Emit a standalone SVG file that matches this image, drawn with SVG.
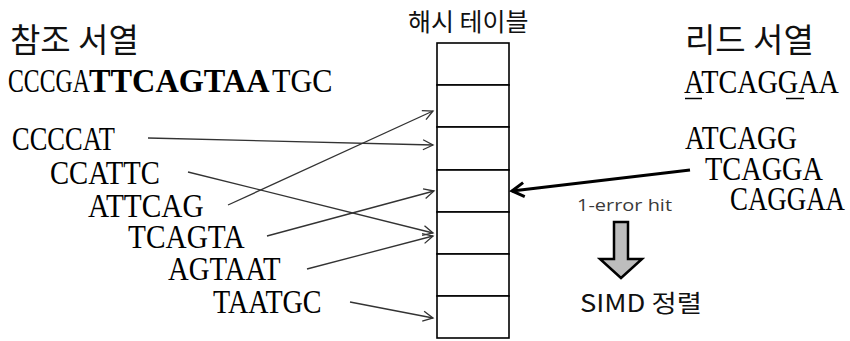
<svg xmlns="http://www.w3.org/2000/svg" width="850" height="341" viewBox="0 0 850 341">
<style>
.ko{font-family:"Noto Sans CJK KR","Noto Sans",sans-serif;fill:#111}
.seq{font-family:"Liberation Serif","DejaVu Serif",serif;font-size:34px;fill:#000}
.b{font-weight:bold}
.small{font-family:"Open Sans","Noto Sans CJK KR",sans-serif;fill:#3a3a3a}
.cell{fill:#fff;stroke:#000;stroke-width:1.6}
.ul{stroke:#000;stroke-width:1.5}
.thin{stroke:#333;stroke-width:1.3;fill:none;marker-end:url(#open)}
.thick{stroke:#000;stroke-width:3;fill:none;marker-end:url(#openBig)}
</style>
<defs>
<marker id="open" markerUnits="userSpaceOnUse" viewBox="-11 -6 13 12" refX="0" refY="0" markerWidth="13" markerHeight="12" orient="auto">
<path d="M-10,-5 L0,0 L-10,5" fill="none" stroke="#333" stroke-width="1.3"/>
</marker>
<marker id="openBig" markerUnits="userSpaceOnUse" viewBox="-14 -9 17 18" refX="0" refY="0" markerWidth="17" markerHeight="18" orient="auto">
<path d="M-12,-7 L0,0 L-12,7" fill="none" stroke="#000" stroke-width="3"/>
</marker>
</defs>

<g id="ref-title"><text class="ko" x="10" y="52" font-size="33">참조 서열</text></g>
<g id="ref-seq">
<text class="seq" transform="translate(8,92) scale(0.7,1)">CCCGA</text>
<text class="seq b" transform="translate(89,92) scale(0.95,1)">TTCAGTAA</text>
<text class="seq" transform="translate(272,92) scale(0.89,1)">TGC</text>
</g>

<g id="kmers-ref">
<text class="seq" transform="translate(12,150) scale(0.779,1)">CCCCAT</text>
<text class="seq" transform="translate(50,184) scale(0.843,1)">CCATTC</text>
<text class="seq" transform="translate(88,217) scale(0.863,1)">ATTCAG</text>
<text class="seq" transform="translate(128,248) scale(0.863,1)">TCAGTA</text>
<text class="seq" transform="translate(168,280) scale(0.845,1)">AGTAAT</text>
<text class="seq" transform="translate(213,313) scale(0.827,1)">TAATGC</text>
</g>

<g id="hash-table">
<text class="ko" x="408" y="31" font-size="25">해시 테이블</text>
<rect class="cell" x="437" y="43" width="72" height="42"/>
<rect class="cell" x="437" y="85" width="72" height="42"/>
<rect class="cell" x="437" y="127" width="72" height="43"/>
<rect class="cell" x="437" y="170" width="72" height="42"/>
<rect class="cell" x="437" y="212" width="72" height="42"/>
<rect class="cell" x="437" y="254" width="72" height="42"/>
<rect class="cell" x="437" y="296" width="72" height="42"/>
</g>

<g id="read-title"><text class="ko" x="685" y="52" font-size="33">리드 서열</text></g>
<g id="read-seq">
<text class="seq" transform="translate(684,93) scale(0.828,1)">ATCAGGAA</text>
<line class="ul" x1="685" y1="98.5" x2="702" y2="98.5"/>
<line class="ul" x1="786" y1="98.5" x2="804" y2="98.5"/>
</g>

<g id="kmers-read">
<text class="seq" transform="translate(685,149) scale(0.812,1)">ATCAGG</text>
<text class="seq" transform="translate(705,180) scale(0.833,1)">TCAGGA</text>
<text class="seq" transform="translate(730,210) scale(0.791,1)">CAGGAA</text>
</g>

<g id="hit-label"><text class="small" x="577" y="211" font-size="17" textLength="95" lengthAdjust="spacingAndGlyphs">1-error hit</text></g>

<g id="simd">
<path d="M614,222 L628,222 L628,259 L642,259 L621,278 L600,259 L614,259 Z" fill="#bdbdbd" stroke="#000" stroke-width="2.5" stroke-linejoin="miter"/>
<text class="ko" x="580" y="312" font-size="24" textLength="122" lengthAdjust="spacingAndGlyphs" fill="#222">SIMD 정렬</text>
</g>

<g id="connectors">
<line class="thin" x1="148" y1="138" x2="433" y2="145"/>
<line class="thin" x1="188" y1="172" x2="433" y2="233"/>
<line class="thin" x1="228" y1="205" x2="433" y2="111"/>
<line class="thin" x1="267" y1="236" x2="434" y2="191"/>
<line class="thin" x1="307" y1="269" x2="433" y2="236"/>
<line class="thin" x1="350" y1="302" x2="433" y2="318"/>
<line class="thick" x1="690" y1="170" x2="512" y2="191"/>
</g>
</svg>
